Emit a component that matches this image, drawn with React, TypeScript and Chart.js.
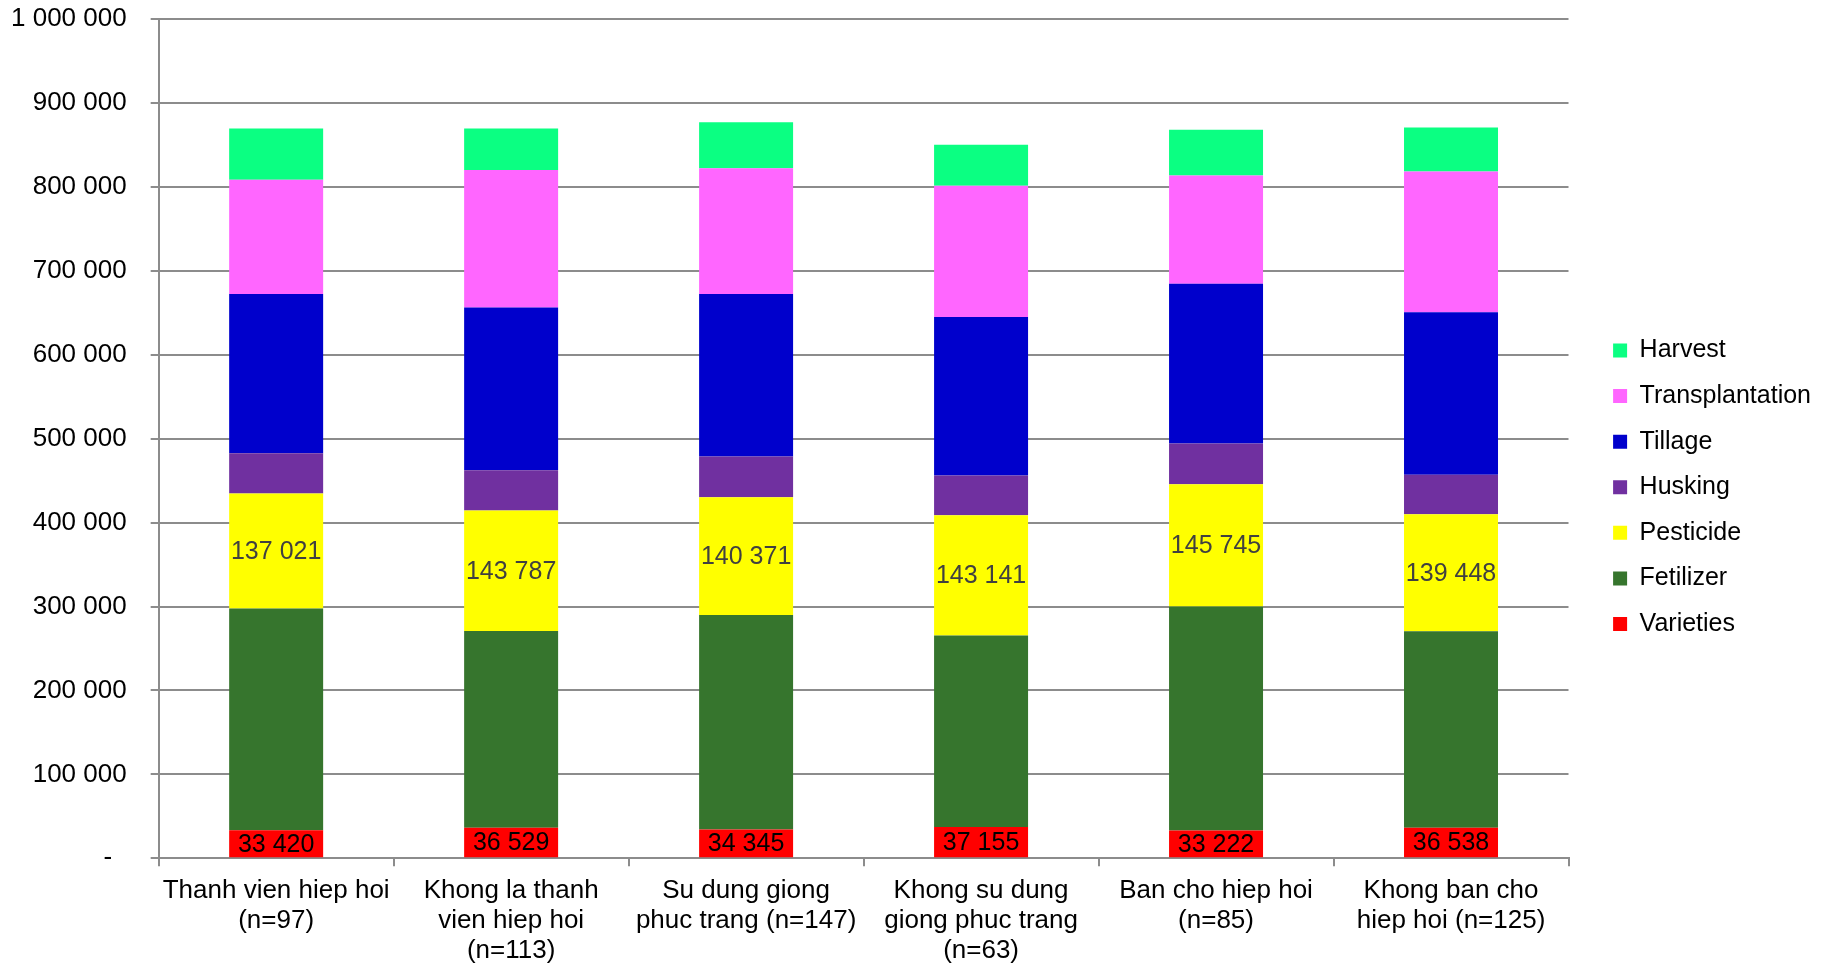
import React, { useEffect, useRef } from "react";
import { Chart, registerables } from "chart.js";

Chart.register(...registerables);

const categories: string[][] = [
  ["Thanh vien hiep hoi", "(n=97)"],
  ["Khong la thanh", "vien hiep hoi", "(n=113)"],
  ["Su dung giong", "phuc trang (n=147)"],
  ["Khong su dung", "giong phuc trang", "(n=63)"],
  ["Ban cho hiep hoi", "(n=85)"],
  ["Khong ban cho", "hiep hoi (n=125)"],
];

const varieties = [33420, 36529, 34345, 37155, 33222, 36538];
const fetilizer = [264100, 234200, 255400, 228300, 266800, 234000];
const pesticide = [137021, 143787, 140371, 143141, 145745, 139448];
const husking = [48000, 47800, 48600, 47400, 48600, 46900];
const tillage = [189800, 193900, 193700, 189000, 190200, 193700];
const transplantation = [136200, 163900, 149700, 156400, 128900, 167600];
const harvest = [61100, 49300, 54900, 48900, 54600, 52500];

const yTicks = [0, 100000, 200000, 300000, 400000, 500000, 600000, 700000, 800000, 900000, 1000000];

const FONT = "'Liberation Sans', Arial, sans-serif";

const fmt = (v: number) => String(Math.round(v)).replace(/\B(?=(\d{3})+(?!\d))/g, " ");

const labelPlugin = {
  id: "segLabels",
  afterDatasetsDraw(chart: any) {
    const ctx = chart.ctx;
    const targets: { idx: number; color: string }[] = [
      { idx: 0, color: "#000000" },
      { idx: 2, color: "#404040" },
    ];
    ctx.save();
    ctx.font = `25px ${FONT}`;
    ctx.textAlign = "center";
    ctx.textBaseline = "middle";
    targets.forEach(({ idx, color }) => {
      const meta = chart.getDatasetMeta(idx);
      const data = chart.data.datasets[idx].data as number[];
      ctx.fillStyle = color;
      meta.data.forEach((el: any, i: number) => {
        const p = el.getProps(["x", "y", "base"], true);
        ctx.fillText(fmt(data[i]), p.x, (p.y + p.base) / 2 + 1);
      });
    });
    ctx.restore();
  },
};

export default function App() {
  const ref = useRef<HTMLCanvasElement | null>(null);
  useEffect(() => {
    document.body.style.margin = "0";
    if (!ref.current) return;
    const grid = "#8c8c8c";
    const chart = new Chart(ref.current, {
      type: "bar",
      data: {
        labels: categories,
        datasets: [
          { label: "Varieties", data: varieties, backgroundColor: "#FF0000" },
          { label: "Fetilizer", data: fetilizer, backgroundColor: "#36752D" },
          { label: "Pesticide", data: pesticide, backgroundColor: "#FFFF00" },
          { label: "Husking", data: husking, backgroundColor: "#7030A0" },
          { label: "Tillage", data: tillage, backgroundColor: "#0000CC" },
          { label: "Transplantation", data: transplantation, backgroundColor: "#FF66FF" },
          { label: "Harvest", data: harvest, backgroundColor: "#0BFF82" },
        ],
      },
      options: {
        animation: false,
        responsive: true,
        maintainAspectRatio: false,
        layout: { padding: { top: -1.5, left: -13, right: 8, bottom: -12 } },
        datasets: { bar: { barPercentage: 0.4, categoryPercentage: 1 } },
        plugins: {
          legend: {
            position: "right",
            reverse: true,
            labels: {
              boxWidth: 14,
              boxHeight: 14,
              padding: 20.6,
              color: "#000",
              font: { family: FONT, size: 25 },
            },
          },
          tooltip: { enabled: false },
        },
        scales: {
          x: {
            stacked: true,
            grid: { display: true, drawOnChartArea: false, drawTicks: true, tickLength: 8, color: grid, lineWidth: 2, offset: true },
            border: { display: true, color: grid, width: 2 },
            ticks: { color: "#000", font: { family: FONT, size: 26, lineHeight: 1.15 }, padding: 10, maxRotation: 0, autoSkip: false },
          },
          y: {
            stacked: true,
            min: 0,
            max: 1000000,
            afterBuildTicks: (axis: any) => {
              axis.ticks = yTicks.map((v) => ({ value: v }));
            },
            afterFit: (s: any) => {
              s.paddingTop = 19;
              s.paddingBottom = 0;
            },
            grid: { color: grid, lineWidth: 2, tickLength: 8 },
            border: { display: true, color: grid, width: 2 },
            ticks: {
              color: "#000",
              font: { family: FONT, size: 26 },
              padding: 24,
              callback: (v: any) => (Number(v) === 0 ? "-\u2007" : fmt(Number(v))),
            },
          },
          gap: {
            type: "linear",
            position: "right",
            display: true,
            grid: { display: false, drawTicks: false },
            border: { display: false },
            ticks: { display: false },
            afterFit: (s: any) => {
              s.width = 24;
            },
          },
        },
      },
      plugins: [labelPlugin],
    });
    return () => chart.destroy();
  }, []);
  return (
    <div style={{ width: 1829, height: 964, position: "relative" }}>
      <canvas ref={ref} />
    </div>
  );
}
